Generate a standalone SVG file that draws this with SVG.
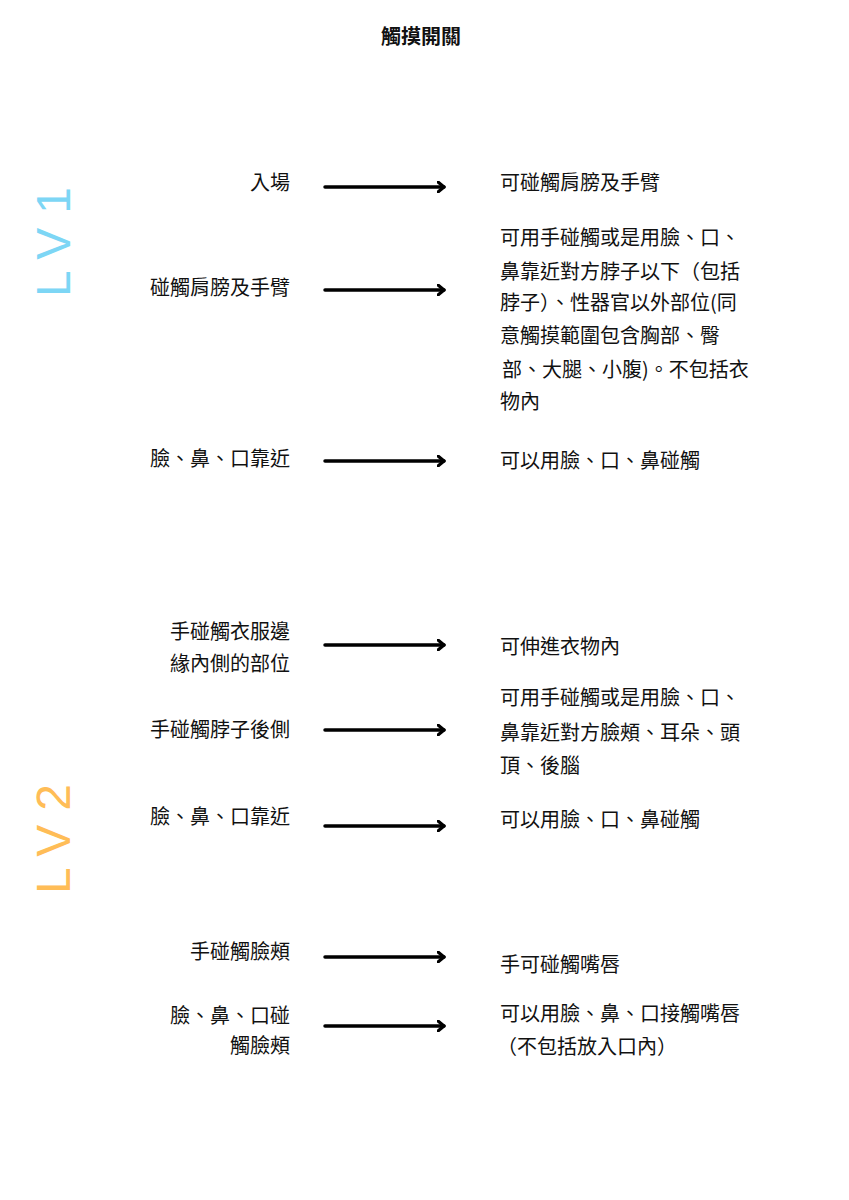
<svg xmlns="http://www.w3.org/2000/svg" width="849" height="1200" viewBox="0 0 849 1200">
<style>
text{font-family:"Noto Sans CJK TC","Noto Sans CJK SC",sans-serif;font-size:20px;fill:#111}
.l{text-anchor:end}
.t{font-weight:bold;font-size:20px;text-anchor:middle}
.lv{font-family:"Liberation Sans",sans-serif;font-size:48px;letter-spacing:14px}
.a{stroke:#000;stroke-width:3.5;fill:none;stroke-linecap:round;stroke-linejoin:round}
</style>
<defs><marker id="h" markerWidth="10" markerHeight="12" refX="7" refY="6" orient="auto" markerUnits="userSpaceOnUse"><path d="M1,1 L7,6 L1,11" stroke="#000" stroke-width="3.2" fill="none" stroke-linecap="round" stroke-linejoin="round"/></marker></defs>
<rect width="849" height="1200" fill="#fff"/>
<text class="t" x="421" y="44">觸摸開關</text>
<text class="lv" fill="#7dd6f5" style="fill:#7dd6f5" transform="translate(70,297) rotate(-90)">LV1</text>
<text class="lv" style="fill:#ffbd57" transform="translate(70,894) rotate(-90)">LV2</text>
<g id="connectors">
<path class="a" d="M325,187 H444" marker-end="url(#h)"/>
<path class="a" d="M325,290 H444" marker-end="url(#h)"/>
<path class="a" d="M325,461 H444" marker-end="url(#h)"/>
<path class="a" d="M325,645 H444" marker-end="url(#h)"/>
<path class="a" d="M325,730 H444" marker-end="url(#h)"/>
<path class="a" d="M325,826 H444" marker-end="url(#h)"/>
<path class="a" d="M325,957 H444" marker-end="url(#h)"/>
<path class="a" d="M325,1026 H444" marker-end="url(#h)"/>
</g>
<g id="n1"><text class="l" x="290" y="190">入場</text><text x="500" y="190">可碰觸肩膀及手臂</text></g>
<g id="n2"><text class="l" x="290" y="295">碰觸肩膀及手臂</text>
<text x="500" y="245">可用手碰觸或是用臉、口、</text>
<text x="500" y="279">鼻靠近對方脖子以下（包括</text>
<text x="500" y="310">脖子）、性器官以外部位(同</text>
<text x="500" y="343">意觸摸範圍包含胸部、臀</text>
<text x="502" y="377">部、大腿、小腹)。不包括衣</text>
<text x="500" y="409">物內</text></g>
<g id="n3"><text class="l" x="290" y="466">臉、鼻、口靠近</text><text x="500" y="468">可以用臉、口、鼻碰觸</text></g>
<g id="n4"><text class="l" x="290" y="639">手碰觸衣服邊</text><text class="l" x="290" y="671">緣內側的部位</text><text x="500" y="654">可伸進衣物內</text></g>
<g id="n5"><text class="l" x="290" y="737">手碰觸脖子後側</text>
<text x="500" y="705">可用手碰觸或是用臉、口、</text>
<text x="500" y="740">鼻靠近對方臉頰、耳朵、頭</text>
<text x="500" y="773">頂、後腦</text></g>
<g id="n6"><text class="l" x="290" y="824">臉、鼻、口靠近</text><text x="500" y="827">可以用臉、口、鼻碰觸</text></g>
<g id="n7"><text class="l" x="290" y="959">手碰觸臉頰</text><text x="500" y="972">手可碰觸嘴唇</text></g>
<g id="n8"><text class="l" x="290" y="1023">臉、鼻、口碰</text><text class="l" x="290" y="1053">觸臉頰</text>
<text x="500" y="1021">可以用臉、鼻、口接觸嘴唇</text><text x="497" y="1054">（不包括放入口內）</text></g>
</svg>
